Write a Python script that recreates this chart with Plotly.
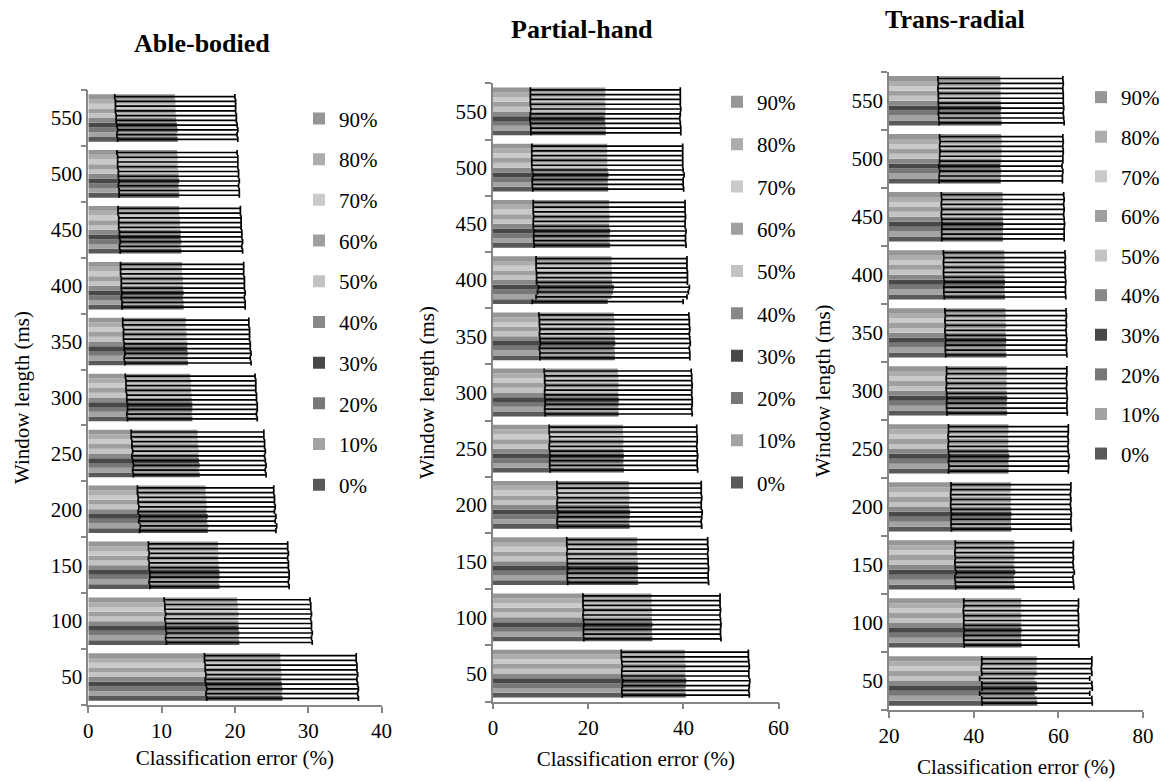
import plotly.graph_objects as go

windows = ["50", "100", "150", "200", "250", "300", "350", "400", "450", "500", "550"]
series = ["0%", "10%", "20%", "30%", "40%", "50%", "60%", "70%", "80%", "90%"]
colors = ["#595959", "#a3a3a3", "#777777", "#484848", "#888888",
          "#c3c3c3", "#9f9f9f", "#cacaca", "#adadad", "#969696"]

# Able-bodied: classification error (%) per series (rows) and window (columns)
able_values = [
    [26.5, 20.6, 17.9, 16.3, 15.2, 14.2, 13.6, 13.0, 12.7, 12.4, 12.2],
    [26.4, 20.5, 17.8, 16.4, 15.1, 14.1, 13.5, 13.0, 12.6, 12.4, 12.1],
    [26.5, 20.6, 17.9, 16.2, 15.2, 14.2, 13.6, 12.9, 12.7, 12.3, 12.2],
    [26.4, 20.5, 17.9, 16.3, 15.1, 14.2, 13.5, 13.0, 12.6, 12.4, 12.1],
    [26.3, 20.5, 17.8, 16.1, 15.0, 14.1, 13.5, 12.9, 12.6, 12.3, 12.0],
    [26.4, 20.4, 17.8, 16.2, 15.1, 14.1, 13.4, 12.9, 12.5, 12.3, 12.0],
    [26.3, 20.5, 17.7, 16.1, 15.0, 14.0, 13.4, 12.9, 12.5, 12.2, 11.9],
    [26.3, 20.4, 17.8, 16.1, 15.0, 14.0, 13.4, 12.8, 12.5, 12.2, 11.9],
    [26.2, 20.4, 17.7, 16.0, 14.9, 14.0, 13.3, 12.8, 12.4, 12.2, 11.9],
    [26.2, 20.3, 17.7, 16.0, 14.9, 13.9, 13.3, 12.8, 12.4, 12.1, 11.8],
]
able_errors = [10.35, 9.95, 9.5, 9.3, 9.05, 8.85, 8.6, 8.4, 8.35, 8.2, 8.2]

# Partial-hand
partial_values = [
    [40.5, 33.5, 30.5, 28.7, 27.5, 26.4, 25.6, 24.1, 24.6, 24.2, 23.7],
    [40.4, 33.4, 30.4, 28.6, 27.4, 26.3, 25.6, 24.9, 24.5, 24.1, 23.7],
    [40.5, 33.4, 30.4, 28.7, 27.4, 26.4, 25.5, 25.2, 24.5, 24.1, 23.6],
    [40.6, 33.5, 30.5, 28.8, 27.5, 26.4, 25.7, 25.4, 24.6, 24.3, 23.5],
    [40.4, 33.4, 30.4, 28.6, 27.4, 26.3, 25.6, 25.0, 24.4, 24.1, 23.6],
    [40.4, 33.3, 30.4, 28.6, 27.3, 26.3, 25.5, 25.0, 24.4, 24.0, 23.7],
    [40.5, 33.4, 30.3, 28.7, 27.4, 26.4, 25.6, 25.0, 24.5, 24.0, 23.6],
    [40.4, 33.3, 30.4, 28.6, 27.4, 26.3, 25.5, 24.9, 24.4, 24.0, 23.6],
    [40.3, 33.3, 30.3, 28.6, 27.3, 26.3, 25.5, 24.9, 24.4, 24.0, 23.6],
    [40.3, 33.3, 30.3, 28.6, 27.3, 26.2, 25.4, 24.9, 24.4, 24.0, 23.6],
]
partial_errors = [13.35, 14.4, 14.8, 15.15, 15.5, 15.45, 15.75, 15.85, 15.95, 15.85, 15.75]

# Trans-radial
trans_values = [
    [55.0, 51.3, 49.7, 48.9, 48.2, 47.9, 47.7, 47.4, 46.9, 46.4, 46.6],
    [54.9, 51.2, 49.6, 48.8, 48.3, 47.8, 47.6, 47.3, 46.9, 46.4, 46.5],
    [54.4, 51.2, 49.5, 48.8, 48.2, 47.8, 47.6, 47.3, 46.9, 46.5, 46.4],
    [55.0, 51.3, 49.8, 48.9, 48.4, 47.9, 47.7, 47.4, 47.0, 46.3, 46.5],
    [54.9, 51.2, 49.6, 48.8, 48.2, 47.8, 47.6, 47.3, 46.9, 46.5, 46.4],
    [54.4, 51.2, 49.5, 48.7, 48.1, 47.7, 47.5, 47.2, 46.8, 46.5, 46.4],
    [54.9, 51.2, 49.6, 48.8, 48.2, 47.8, 47.6, 47.3, 46.9, 46.6, 46.4],
    [54.8, 51.1, 49.5, 48.7, 48.1, 47.7, 47.5, 47.2, 46.8, 46.5, 46.3],
    [54.9, 51.2, 49.6, 48.8, 48.2, 47.8, 47.6, 47.3, 46.9, 46.6, 46.4],
    [54.9, 51.2, 49.6, 48.8, 48.2, 47.8, 47.5, 47.2, 46.8, 46.5, 46.3],
]
trans_errors = [13.0, 13.55, 13.95, 14.15, 14.15, 14.2, 14.3, 14.35, 14.45, 14.55, 14.75]

panels = [
    ("Able-bodied", able_values, able_errors, "x", "y", "legend"),
    ("Partial-hand", partial_values, partial_errors, "x2", "y2", "legend2"),
    ("Trans-radial", trans_values, trans_errors, "x3", "y3", "legend3"),
]

FONT = "Liberation Serif"
fig = go.Figure()

for p_i, (name, vals, errs, xa, ya, lg) in enumerate(panels):
    for s_i, s in enumerate(series):
        fig.add_trace(go.Bar(
            y=windows, x=vals[s_i], orientation="h", name=s,
            marker=dict(color=colors[s_i], line=dict(width=0)),
            error_x=dict(type="data", array=errs, symmetric=True,
                         color="black", thickness=1.7, width=2.6),
            xaxis=xa, yaxis=ya, legend=lg,
            legendgroup=f"{name}-{s}", legendrank=100 - s_i,
        ))

W, H = 1162, 782
def dx(a, b):
    return [a / W, b / W]
def dy(top, bottom):
    return [(H - bottom) / H, (H - top) / H]

axis_common = dict(showgrid=False, zeroline=False, showline=True, automargin=False,
                   linecolor="#868686", linewidth=1.5, ticks="outside",
                   ticklen=6, tickcolor="#868686", tickwidth=1.5,
                   tickfont=dict(family=FONT, size=21, color="black"))

x_specs = [
    (dx(88.3, 381.5), [0, 40], 10, 8),
    (dx(493, 778.6), [0, 60], 20, 13),
    (dx(889, 1143.1), [20, 80], 20, 12),
]
y_specs = [dy(90, 705), dy(83.3, 701.7), dy(71.7, 710)]

layout = dict(
    template="none",
    width=W, height=H, margin=dict(l=0, r=0, t=0, b=0, autoexpand=False),
    paper_bgcolor="white", plot_bgcolor="white",
    barmode="group", bargap=0.15, bargroupgap=0,
    font=dict(family=FONT, size=21, color="black"),
)
for i in range(3):
    sfx = "" if i == 0 else str(i + 1)
    dom, rng, dt, st = x_specs[i]
    layout["xaxis" + sfx] = dict(
        axis_common, domain=dom, range=rng, dtick=dt, tick0=0,
        anchor="y" + sfx,
        title=dict(text="Classification error (%)",
                   font=dict(family=FONT, size=21, color="black"), standoff=st),
    )
    layout["yaxis" + sfx] = dict(
        axis_common, domain=y_specs[i], anchor="x" + sfx, type="category",
        categoryorder="array", categoryarray=windows, tickson="boundaries",
        range=[-0.5, 10.5],
        title=dict(text="Window length (ms)",
                   font=dict(family=FONT, size=21, color="black"), standoff=15),
    )

legend_pos = [(299 / W, (H - 98.3) / H, 10.4),
              (717 / W, (H - 81.7) / H, 12.0),
              (1081 / W, (H - 77) / H, 9.3)]
for i, (lx, ly, gap) in enumerate(legend_pos):
    key = "legend" if i == 0 else f"legend{i + 1}"
    layout[key] = dict(x=lx, y=ly, xanchor="left", yanchor="top",
                       traceorder="grouped", tracegroupgap=gap,
                       bgcolor="rgba(0,0,0,0)", borderwidth=0,
                       font=dict(family=FONT, size=21, color="black"))

fig.update_layout(**layout)

titles = [("Able-bodied", 202, 43), ("Partial-hand", 582, 30), ("Trans-radial", 955, 20)]
for t, tx, ty in titles:
    fig.add_annotation(text=f"<b>{t}</b>", x=tx / W, y=(H - ty) / H,
                       xref="paper", yref="paper", showarrow=False,
                       xanchor="center", yanchor="middle",
                       font=dict(family=FONT, size=26, color="black"))

fig.write_html("out.html")
